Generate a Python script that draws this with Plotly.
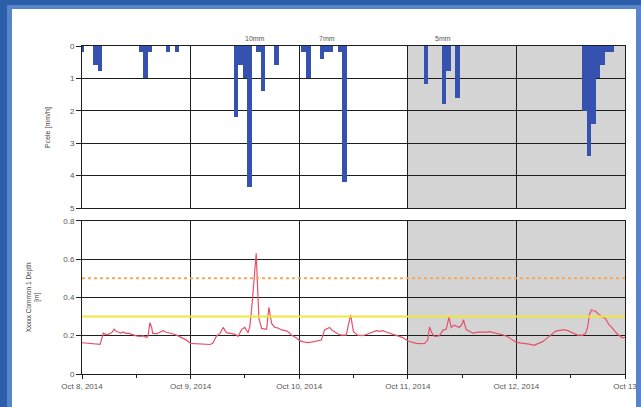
import pandas as pd
import plotly.graph_objects as go

BASE = pd.Timestamp("2014-10-08 00:00")
END = pd.Timestamp("2014-10-13 00:00")
SHADE_START = pd.Timestamp("2014-10-11 00:00")

# Hourly rainfall (hours after Oct 8 00:00, mm/h)
rain_hours = [0, 3, 4, 13, 14, 15, 19, 21,
              34, 35, 36, 37, 39, 40, 43,
              49, 50, 53, 54, 55, 57, 58,
              76, 80, 81, 83,
              111, 112, 113, 114, 115, 116, 117]
rain_mm = [0.17, 0.58, 0.77, 0.18, 1.0, 0.18, 0.2, 0.2,
           2.2, 0.59, 1.0, 4.35, 0.18, 1.38, 0.59,
           0.18, 1.0, 0.4, 0.2, 0.2, 0.2, 4.19,
           1.18, 1.8, 0.77, 1.6,
           2.0, 3.38, 2.4, 1.0, 0.6, 0.2, 0.2]

# Depth series (hours after Oct 8 00:00, m)
depth_hours = [0.0, 0.8, 1.6, 2.4, 3.2, 4.0, 4.6, 4.7, 5.5, 6.0, 6.6, 7.1, 7.6, 8.0, 8.6, 9.1, 9.7,
               10.2, 10.8, 11.3, 12.0, 12.8, 13.5, 14.3, 14.6, 15.0, 15.4, 15.6, 16.0, 16.5,
               17.2, 17.9, 18.5, 19.1, 19.6, 20.2, 20.9, 21.6, 22.4, 23.0, 23.5, 24.0, 25.0,
               26.0, 27.2, 28.3, 28.9, 29.7, 30.5, 31.2, 31.9, 32.6, 33.4, 34.0, 34.5, 35.3,
               36.0, 36.7, 37.1, 37.6, 38.2, 38.5, 38.8, 39.1, 39.7, 40.2, 40.8, 41.3, 41.9,
               42.6, 43.3, 44.1, 44.6, 45.2, 45.8, 46.3, 47.2, 48.1, 49.0, 50.0, 50.7, 51.4,
               52.1, 52.9, 53.6, 54.2, 54.7, 55.2, 55.8, 56.5, 57.3, 57.9, 58.4, 58.9, 59.4,
               59.7, 60.0, 60.9, 61.5, 62.1, 62.8, 63.6, 64.3, 65.1, 65.8, 66.5, 67.2, 68.0,
               68.7, 69.5, 70.2, 70.9, 72.0, 73.0, 73.9, 74.8, 75.7, 76.4, 76.8, 77.3, 77.9,
               78.5, 79.0, 79.8, 80.5, 81.1, 81.6, 82.3, 82.8, 83.4, 84.0, 84.3, 84.9, 85.6,
               86.4, 87.5, 88.6, 89.3, 90.1, 91.0, 91.8, 92.9, 94.0, 95.0, 95.9, 96.8, 97.7,
               98.8, 99.9, 100.8, 101.8, 102.5, 103.2, 104.0, 104.7, 105.6, 106.6, 107.5,
               108.4, 109.0, 109.5, 110.0, 110.6, 111.3, 111.8, 112.1, 112.6, 113.0, 113.5,
               114.0, 114.6, 115.1, 115.7, 116.1, 116.5, 116.9, 117.2, 117.7, 118.3, 118.8,
               119.4, 120.0]
depth_m = [0.163, 0.161, 0.160, 0.160, 0.157, 0.155, 0.204, 0.213, 0.204, 0.209, 0.216, 0.234, 0.222, 0.219, 0.214, 0.219, 0.212,
           0.213, 0.207, 0.203, 0.199, 0.196, 0.199, 0.191, 0.200, 0.268, 0.243, 0.213, 0.212, 0.209,
           0.218, 0.226, 0.219, 0.216, 0.213, 0.209, 0.203, 0.196, 0.187, 0.178, 0.170, 0.160, 0.158,
           0.157, 0.155, 0.154, 0.160, 0.197, 0.212, 0.243, 0.216, 0.214, 0.209, 0.205, 0.196, 0.233,
           0.243, 0.215, 0.250, 0.369, 0.560, 0.630, 0.456, 0.290, 0.238, 0.235, 0.233, 0.348, 0.264,
           0.243, 0.240, 0.230, 0.228, 0.225, 0.215, 0.203, 0.190, 0.174, 0.168, 0.164, 0.166, 0.169,
           0.172, 0.177, 0.230, 0.236, 0.243, 0.230, 0.221, 0.210, 0.203, 0.205, 0.203, 0.260, 0.308,
           0.260, 0.221, 0.203, 0.202, 0.200, 0.206, 0.213, 0.220, 0.226, 0.222, 0.226, 0.219, 0.213,
           0.207, 0.200, 0.195, 0.190, 0.172, 0.166, 0.160, 0.159, 0.160, 0.177, 0.245, 0.215, 0.196,
           0.198, 0.200, 0.229, 0.233, 0.297, 0.243, 0.255, 0.250, 0.243, 0.260, 0.283, 0.232, 0.222,
           0.213, 0.218, 0.221, 0.219, 0.221, 0.217, 0.213, 0.205, 0.196, 0.182, 0.166, 0.162, 0.160,
           0.156, 0.150, 0.158, 0.169, 0.182, 0.196, 0.212, 0.224, 0.228, 0.231, 0.225,
           0.216, 0.208, 0.203, 0.203, 0.202, 0.212, 0.250, 0.308, 0.335, 0.330, 0.328,
           0.315, 0.302, 0.296, 0.288, 0.270, 0.256, 0.248, 0.238, 0.225, 0.209, 0.200,
           0.189, 0.191]

# Annotated rain totals
total_labels = ["10mm", "7mm", "5mm"]
total_hours = [38.2, 54.1, 79.7]

# Thresholds (m)
ORANGE_LEVEL = 0.5
YELLOW_LEVEL = 0.3

tick_vals = [BASE + pd.Timedelta(days=d) for d in range(6)]
tick_text = ["Oct 8, 2014", "Oct 9, 2014", "Oct 10, 2014", "Oct 11, 2014", "Oct 12, 2014", "Oct 13"]

rain_t = [BASE + pd.Timedelta(hours=h) for h in rain_hours]
depth_t = [BASE + pd.Timedelta(hours=h) for h in depth_hours]
total_t = [BASE + pd.Timedelta(hours=h) for h in total_hours]

FONT = "Liberation Sans, Arial, sans-serif"
GRID = "#1e1e1e"

fig = go.Figure()
fig.add_trace(go.Bar(x=rain_t, y=rain_mm, width=3600000, marker=dict(color="#3552b0", line_width=0),
                     xaxis="x", yaxis="y", showlegend=False))
fig.add_trace(go.Scatter(x=depth_t, y=depth_m, mode="lines", line=dict(color="#e8506a", width=1.2),
                         xaxis="x2", yaxis="y2", showlegend=False))

xcommon = dict(type="date", range=[BASE, END], showgrid=True, gridcolor=GRID, gridwidth=1,
               tickvals=tick_vals, showline=True, linecolor=GRID, linewidth=1, mirror=True,
               zeroline=False, automargin=False, fixedrange=True)
ycommon = dict(showgrid=True, gridcolor=GRID, gridwidth=1, showline=True, linecolor=GRID, linewidth=1,
               mirror=True, zeroline=False, ticks="outside", ticklen=5, tickcolor=GRID,
               tickfont=dict(size=8, color="#555555", family=FONT), automargin=False)

fig.update_layout(
    width=641, height=407,
    margin=dict(l=82, r=16, t=46, b=33),
    paper_bgcolor="#2d5ea9",
    plot_bgcolor="white",
    font=dict(family=FONT, size=8, color="#555555"),
    bargap=0,
    xaxis=dict(**xcommon, anchor="y", showticklabels=False, ticks=""),
    yaxis=dict(**ycommon, domain=[0.506, 1.0], range=[5, 0], dtick=1),
    xaxis2=dict(**xcommon, anchor="y2", ticktext=tick_text, ticks="outside", ticklen=4, tickcolor=GRID,
                tickfont=dict(size=8, color="#555555", family=FONT),
                minor=dict(dtick=43200000, ticks="outside", ticklen=3, tickcolor=GRID, showgrid=False)),
    yaxis2=dict(**ycommon, domain=[0.0, 0.4674], range=[0, 0.8],
                tickvals=[0, 0.2, 0.4, 0.6, 0.8], ticktext=["0", "0.2", "0.4", "0.6", "0.8"]),
)

shapes = [
    # frame
    dict(type="rect", xref="paper", yref="paper", x0=-75/543, x1=1+16/543, y0=-34/328, y1=1+41/328,
         fillcolor="#5784cb", line_width=0, layer="below"),
    dict(type="rect", xref="paper", yref="paper", x0=-70/543, x1=1+11/543, y0=-34/328, y1=1+37/328,
         fillcolor="white", line_width=0, layer="below"),
    # weekend shading
    dict(type="rect", xref="x", yref="y domain", x0=SHADE_START, x1=END, y0=0, y1=1,
         fillcolor="#d4d4d4", line_width=0, layer="below"),
    dict(type="rect", xref="x2", yref="y2 domain", x0=SHADE_START, x1=END, y0=0, y1=1,
         fillcolor="#d4d4d4", line_width=0, layer="below"),
    # thresholds
    dict(type="line", xref="x2 domain", yref="y2", x0=0, x1=1, y0=ORANGE_LEVEL, y1=ORANGE_LEVEL,
         line=dict(color="#f5a85a", width=2, dash="dot"), layer="above"),
    dict(type="line", xref="x2 domain", yref="y2", x0=0, x1=1, y0=YELLOW_LEVEL, y1=YELLOW_LEVEL,
         line=dict(color="#f0e63c", width=2), layer="above"),
]
fig.update_layout(shapes=shapes)

annotations = [
    dict(text="Pcele [mm/h]", xref="paper", yref="paper", x=-34/543, y=0.753, textangle=-90,
         showarrow=False, font=dict(size=7, color="#444444", family=FONT), xanchor="center", yanchor="middle"),
    dict(text="Xxxxx Common 1 Depth<br>[m]", xref="paper", yref="paper", x=-49/543, y=0.2337, textangle=-90,
         showarrow=False, font=dict(size=6.5, color="#444444", family=FONT), xanchor="center", yanchor="middle"),
]
for lab, t in zip(total_labels, total_t):
    annotations.append(dict(text=lab, x=t, xref="x", y=1.0, yref="paper", yanchor="bottom", yshift=2,
                            showarrow=False, font=dict(size=7, color="#555555", family=FONT)))
fig.update_layout(annotations=annotations)

fig.write_html("out.html",
               config={"displayModeBar": False, "staticPlot": True},
               post_script="document.body.style.margin='0';document.body.style.padding='0';"
                           "document.body.style.overflow='hidden';")
